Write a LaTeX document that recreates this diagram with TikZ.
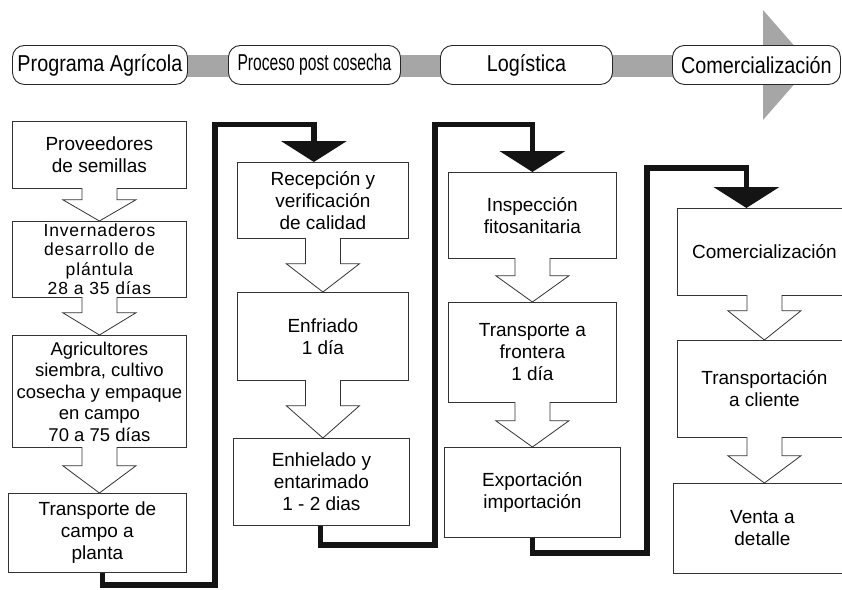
\documentclass[tikz,border=0pt]{standalone}
\usepackage{fontspec}
\setmainfont{Liberation Sans}
\newfontfamily\topfont[FakeStretch=0.86]{Liberation Sans}
\newfontfamily\narrowfont[FakeStretch=0.68]{Liberation Sans}
\newfontfamily\spacedfont[LetterSpace=5]{Liberation Sans}
\usetikzlibrary{arrows.meta,calc}
\newcommand\harrow[4]{%
  \coordinate (ha) at ($(#1.south)+(#3,0)$);
  \draw[hollow] ($(ha)+(-17.5,-0.8)$) -- ($(ha)+(-17.5,#4)$) -- ($(ha)+(-36.5,#4)$)
    -- (ha |- #2.north) -- ($(ha)+(36.5,#4)$) -- ($(ha)+(17.5,#4)$) -- ($(ha)+(17.5,-0.8)$);
}
\begin{document}
\begin{tikzpicture}[x=1pt,y=-1pt,
  stage/.style={draw=black!85, line width=0.9pt, fill=white, rounded corners=12pt,
    minimum height=39pt, inner sep=0pt, anchor=north west,
    font=\topfont\fontsize{23}{26}\selectfont},
  box/.style={draw=black!80, line width=0.8pt, fill=white, inner sep=0pt,
    align=center, anchor=north west, font=\fontsize{19}{22}\selectfont},
  hollow/.style={draw=black!80, line width=0.8pt, fill=white, line join=miter},
  flow/.style={line width=5.5pt, black!92, -{Triangle[width=65pt,length=21pt]}},
  band/.style={fill=black!35, draw=none}
]
\useasboundingbox (0,0) rectangle (842,589);
\fill[white] (0,0) rectangle (842,589);

% top band
\fill[band] (763,10) -- (811,65) -- (763,120) -- cycle;
\fill[band] (180,55) rectangle (780,77);
\node[stage, minimum width=175pt] (P1) at (12,45) {Programa Agrícola};
\node[stage, minimum width=172pt, font=\narrowfont\fontsize{23}{26}\selectfont] (P2) at (228,45) {Proceso post cosecha};
\node[stage, minimum width=172pt] (P3) at (440,45) {Logística};
\node[stage, minimum width=168pt] (P4) at (672,45) {Comercialización};

% column 1
\node[box, minimum width=174pt, minimum height=67pt] (A) at (12,121) {Proveedores\\de semillas};
\node[box, minimum width=174pt, minimum height=76pt, font=\spacedfont\fontsize{17.5}{19.5}\selectfont] (B) at (12,221) {Invernaderos\\desarrollo de\\plántula\\28 a 35 días};
\node[box, minimum width=174pt, minimum height=112pt, font=\fontsize{18.5}{21.5}\selectfont] (C) at (12,335) {Agricultores\\siembra, cultivo\\cosecha y empaque\\en campo\\70 a 75 días};
\node[box, minimum width=178pt, minimum height=79pt] (D) at (8,493) {Transporte de\\campo a\\planta};

% column 2
\node[box, minimum width=171pt, minimum height=76pt] (R1) at (237,162) {Recepción y\\verificación\\de calidad};
\node[box, minimum width=171pt, minimum height=88pt] (R2) at (237,292) {Enfriado\\1 día};
\node[box, minimum width=176pt, minimum height=87pt] (R3) at (233,438) {Enhielado y\\entarimado\\1 - 2 dias};

% column 3
\node[box, minimum width=168pt, minimum height=86pt] (L1) at (448,172) {Inspección\\fitosanitaria};
\node[box, minimum width=168pt, minimum height=100pt] (L2) at (448,302) {Transporte a\\frontera\\1 día};
\node[box, minimum width=176pt, minimum height=90pt] (L3) at (444,447) {Exportación\\importación};

% column 4
\node[box, minimum width=174pt, minimum height=87pt] (K1) at (677,208) {Comercialización};
\node[box, minimum width=174pt, minimum height=97pt] (K2) at (677,340) {Transportación\\a cliente};
\node[box, minimum width=178pt, minimum height=90pt] (K3) at (673,483) {Venta a\\detalle};

% hollow arrows
\harrow{A}{B}{0}{11}
\harrow{B}{C}{0}{15}
\harrow{C}{D}{0}{18}
\harrow{R1}{R2}{0}{25}
\harrow{R2}{R3}{0}{25}
\harrow{L1}{L2}{0}{17}
\harrow{L2}{L3}{0}{18}
\harrow{K1}{K2}{0}{15}
\harrow{K2}{K3}{0}{18}

% black flow connectors
\coordinate (b1) at (215,585);
\coordinate (t1) at (215,124.5);
\coordinate (b2) at (435,545);
\coordinate (t2) at (435,124.5);
\coordinate (b3) at (647,553);
\coordinate (t3) at (647,168);
\draw[flow] ($(D.south)+(5,0)$) |- (b1) -- (t1) -| ($(R1.north)+(-9,0)$);
\draw[flow] ($(R3.south)+(-1,0)$) |- (b2) -- (t2) -| (L1.north);
\draw[flow] (L3.south) |- (b3) -- (t3) -| ($(K1.north)+(-18,0)$);
\end{tikzpicture}
\end{document}
